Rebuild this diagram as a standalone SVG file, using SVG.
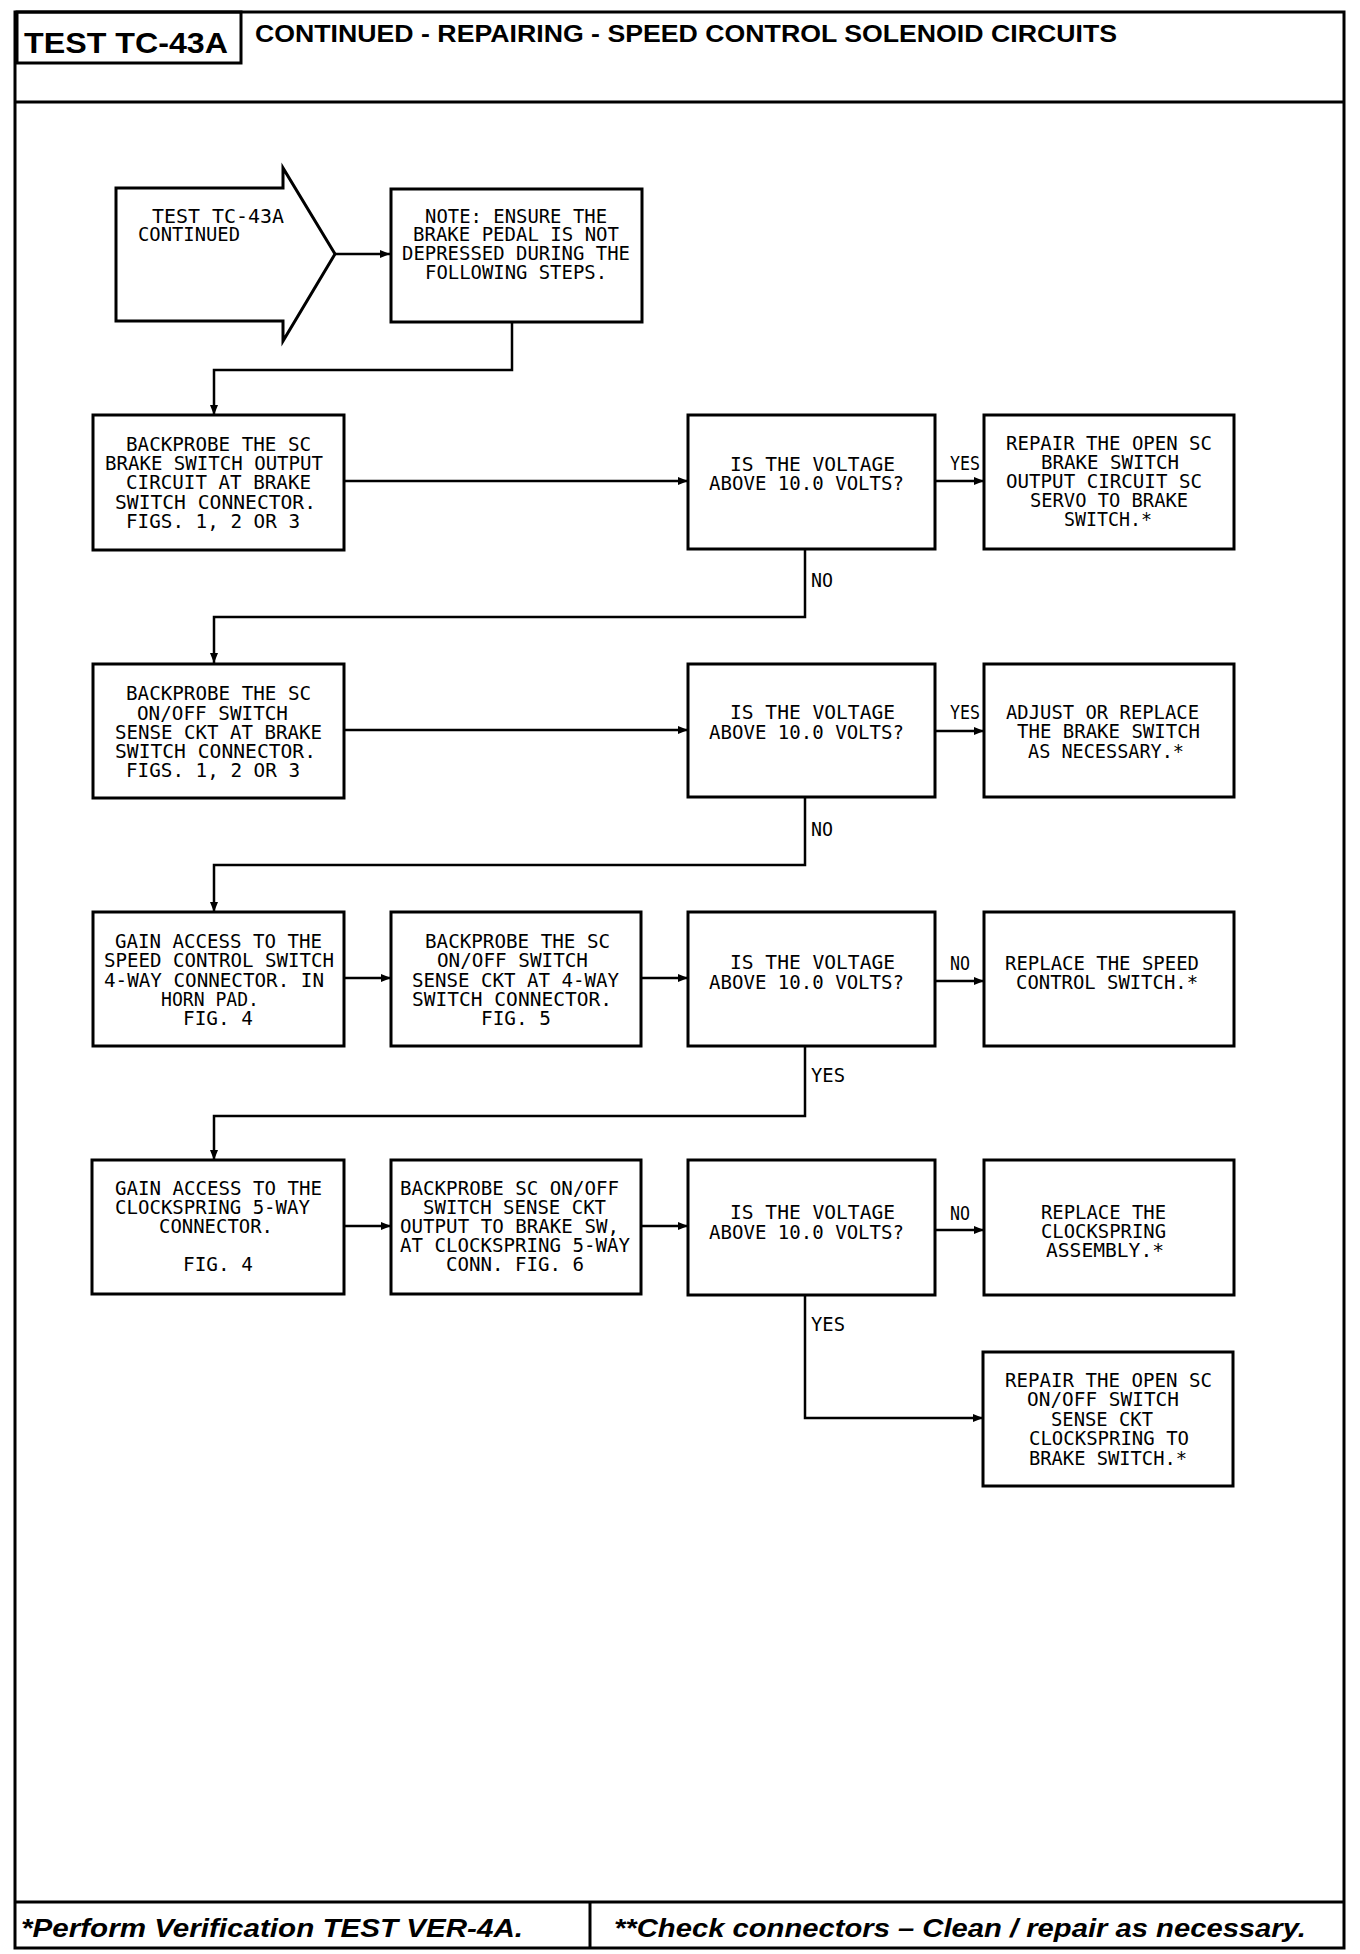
<svg xmlns="http://www.w3.org/2000/svg" width="1360" height="1954" viewBox="0 0 1360 1954">
<defs>
<style>
.frame{fill:none;stroke:#000;stroke-width:3}
.box{fill:none;stroke:#000;stroke-width:3}
.conn{fill:none;stroke:#000;stroke-width:2.5}
.t{font-family:"DejaVu Sans Mono","Liberation Mono",monospace;font-size:20px;fill:#000}
.hd{font-family:"Liberation Sans",Arial,sans-serif;font-weight:bold;fill:#000}
.ft{font-family:"Liberation Sans",Arial,sans-serif;font-weight:bold;font-style:italic;font-size:26px;fill:#000}
</style>
<marker id="ah" markerUnits="userSpaceOnUse" markerWidth="10" markerHeight="8" refX="10" refY="4" orient="auto">
<path d="M0,0 L10,4 L0,8 z" fill="#000"/>
</marker>
</defs>
<rect width="1360" height="1954" fill="#fff"/>

<g id="frame">
<rect class="frame" x="15" y="12" width="1329" height="1936"/>
<line class="frame" x1="15" y1="102" x2="1344" y2="102"/>
<rect class="frame" x="17" y="12" width="224" height="51"/>
<line class="frame" x1="15" y1="1902" x2="1344" y2="1902"/>
<line class="frame" x1="590" y1="1902" x2="590" y2="1948"/>
<text class="hd" x="24" y="53" font-size="30" textLength="204" lengthAdjust="spacingAndGlyphs">TEST TC-43A</text>
<text class="hd" x="255" y="42" font-size="23" textLength="862" lengthAdjust="spacingAndGlyphs">CONTINUED - REPAIRING - SPEED CONTROL SOLENOID CIRCUITS</text>
<text class="ft" x="21" y="1937" textLength="502" lengthAdjust="spacingAndGlyphs">*Perform Verification TEST VER-4A.</text>
<text class="ft" x="614" y="1937" textLength="692" lengthAdjust="spacingAndGlyphs">**Check connectors – Clean / repair as necessary.</text>
</g>

<g id="connectors">
<path class="conn" d="M335,254 H390" marker-end="url(#ah)"/>
<path class="conn" d="M512,322 V370 H214 V415" marker-end="url(#ah)"/>
<path class="conn" d="M344,481 H688" marker-end="url(#ah)"/>
<path class="conn" d="M935,481 H984" marker-end="url(#ah)"/>
<path class="conn" d="M805,549 V617 H214 V663" marker-end="url(#ah)"/>
<path class="conn" d="M344,730 H688" marker-end="url(#ah)"/>
<path class="conn" d="M935,731 H984" marker-end="url(#ah)"/>
<path class="conn" d="M805,797 V865 H214 V912" marker-end="url(#ah)"/>
<path class="conn" d="M344,978 H391" marker-end="url(#ah)"/>
<path class="conn" d="M641,978 H688" marker-end="url(#ah)"/>
<path class="conn" d="M935,981 H984" marker-end="url(#ah)"/>
<path class="conn" d="M805,1046 V1116 H214 V1160" marker-end="url(#ah)"/>
<path class="conn" d="M344,1226 H391" marker-end="url(#ah)"/>
<path class="conn" d="M641,1226 H688" marker-end="url(#ah)"/>
<path class="conn" d="M935,1230 H984" marker-end="url(#ah)"/>
<path class="conn" d="M805,1295 V1418 H983" marker-end="url(#ah)"/>
<text class="t" x="950" y="470" textLength="30" lengthAdjust="spacingAndGlyphs">YES</text>
<text class="t" x="811" y="587" textLength="22" lengthAdjust="spacingAndGlyphs">NO</text>
<text class="t" x="950" y="719" textLength="30" lengthAdjust="spacingAndGlyphs">YES</text>
<text class="t" x="811" y="836" textLength="22" lengthAdjust="spacingAndGlyphs">NO</text>
<text class="t" x="950" y="970" textLength="20" lengthAdjust="spacingAndGlyphs">NO</text>
<text class="t" x="811" y="1082" textLength="34" lengthAdjust="spacingAndGlyphs">YES</text>
<text class="t" x="950" y="1220" textLength="20" lengthAdjust="spacingAndGlyphs">NO</text>
<text class="t" x="811" y="1331" textLength="34" lengthAdjust="spacingAndGlyphs">YES</text>
</g>

<g id="start">
<path class="box" d="M116,188 H283 V168 L335,254 L283,341 V321 H116 Z"/>
<text class="t" x="152" y="223" textLength="132" lengthAdjust="spacingAndGlyphs">TEST TC-43A</text>
<text class="t" x="138" y="241" textLength="102" lengthAdjust="spacingAndGlyphs">CONTINUED</text>
</g>

<g id="note">
<rect class="box" x="391" y="189" width="251" height="133"/>
<text class="t" x="425" y="223" textLength="182" lengthAdjust="spacingAndGlyphs">NOTE: ENSURE THE</text>
<text class="t" x="413" y="241" textLength="206" lengthAdjust="spacingAndGlyphs">BRAKE PEDAL IS NOT</text>
<text class="t" x="402" y="260" textLength="228" lengthAdjust="spacingAndGlyphs">DEPRESSED DURING THE</text>
<text class="t" x="425" y="279" textLength="182" lengthAdjust="spacingAndGlyphs">FOLLOWING STEPS.</text>
</g>

<g id="a1">
<rect class="box" x="93" y="415" width="251" height="135"/>
<text class="t" x="126" y="451" textLength="185" lengthAdjust="spacingAndGlyphs">BACKPROBE THE SC</text>
<text class="t" x="105" y="470" textLength="218" lengthAdjust="spacingAndGlyphs">BRAKE SWITCH OUTPUT</text>
<text class="t" x="126" y="489" textLength="185" lengthAdjust="spacingAndGlyphs">CIRCUIT AT BRAKE</text>
<text class="t" x="115" y="509" textLength="201" lengthAdjust="spacingAndGlyphs">SWITCH CONNECTOR.</text>
<text class="t" x="126" y="528" textLength="174" lengthAdjust="spacingAndGlyphs">FIGS. 1, 2 OR 3</text>
</g>

<g id="d1">
<rect class="box" x="688" y="415" width="247" height="134"/>
<text class="t" x="730" y="471" textLength="165" lengthAdjust="spacingAndGlyphs">IS THE VOLTAGE</text>
<text class="t" x="709" y="490" textLength="195" lengthAdjust="spacingAndGlyphs">ABOVE 10.0 VOLTS?</text>
</g>

<g id="r1">
<rect class="box" x="984" y="415" width="250" height="134"/>
<text class="t" x="1006" y="450" textLength="206" lengthAdjust="spacingAndGlyphs">REPAIR THE OPEN SC</text>
<text class="t" x="1041" y="469" textLength="138" lengthAdjust="spacingAndGlyphs">BRAKE SWITCH</text>
<text class="t" x="1006" y="488" textLength="196" lengthAdjust="spacingAndGlyphs">OUTPUT CIRCUIT SC</text>
<text class="t" x="1030" y="507" textLength="158" lengthAdjust="spacingAndGlyphs">SERVO TO BRAKE</text>
<text class="t" x="1064" y="526" textLength="88" lengthAdjust="spacingAndGlyphs">SWITCH.*</text>
</g>

<g id="a2">
<rect class="box" x="93" y="664" width="251" height="134"/>
<text class="t" x="126" y="700" textLength="185" lengthAdjust="spacingAndGlyphs">BACKPROBE THE SC</text>
<text class="t" x="137" y="720" textLength="151" lengthAdjust="spacingAndGlyphs">ON/OFF SWITCH</text>
<text class="t" x="115" y="739" textLength="207" lengthAdjust="spacingAndGlyphs">SENSE CKT AT BRAKE</text>
<text class="t" x="115" y="758" textLength="201" lengthAdjust="spacingAndGlyphs">SWITCH CONNECTOR.</text>
<text class="t" x="126" y="777" textLength="174" lengthAdjust="spacingAndGlyphs">FIGS. 1, 2 OR 3</text>
</g>

<g id="d2">
<rect class="box" x="688" y="664" width="247" height="133"/>
<text class="t" x="730" y="719" textLength="165" lengthAdjust="spacingAndGlyphs">IS THE VOLTAGE</text>
<text class="t" x="709" y="739" textLength="195" lengthAdjust="spacingAndGlyphs">ABOVE 10.0 VOLTS?</text>
</g>

<g id="r2">
<rect class="box" x="984" y="664" width="250" height="133"/>
<text class="t" x="1006" y="719" textLength="193" lengthAdjust="spacingAndGlyphs">ADJUST OR REPLACE</text>
<text class="t" x="1017" y="738" textLength="183" lengthAdjust="spacingAndGlyphs">THE BRAKE SWITCH</text>
<text class="t" x="1028" y="758" textLength="156" lengthAdjust="spacingAndGlyphs">AS NECESSARY.*</text>
</g>

<g id="a3">
<rect class="box" x="93" y="912" width="251" height="134"/>
<text class="t" x="115" y="948" textLength="207" lengthAdjust="spacingAndGlyphs">GAIN ACCESS TO THE</text>
<text class="t" x="104" y="967" textLength="230" lengthAdjust="spacingAndGlyphs">SPEED CONTROL SWITCH</text>
<text class="t" x="104" y="987" textLength="220" lengthAdjust="spacingAndGlyphs">4-WAY CONNECTOR. IN</text>
<text class="t" x="161" y="1006" textLength="98" lengthAdjust="spacingAndGlyphs">HORN PAD.</text>
<text class="t" x="183" y="1025" textLength="70" lengthAdjust="spacingAndGlyphs">FIG. 4</text>
</g>

<g id="b3">
<rect class="box" x="391" y="912" width="250" height="134"/>
<text class="t" x="425" y="948" textLength="185" lengthAdjust="spacingAndGlyphs">BACKPROBE THE SC</text>
<text class="t" x="437" y="967" textLength="151" lengthAdjust="spacingAndGlyphs">ON/OFF SWITCH</text>
<text class="t" x="412" y="987" textLength="207" lengthAdjust="spacingAndGlyphs">SENSE CKT AT 4-WAY</text>
<text class="t" x="412" y="1006" textLength="200" lengthAdjust="spacingAndGlyphs">SWITCH CONNECTOR.</text>
<text class="t" x="481" y="1025" textLength="70" lengthAdjust="spacingAndGlyphs">FIG. 5</text>
</g>

<g id="d3">
<rect class="box" x="688" y="912" width="247" height="134"/>
<text class="t" x="730" y="969" textLength="165" lengthAdjust="spacingAndGlyphs">IS THE VOLTAGE</text>
<text class="t" x="709" y="989" textLength="195" lengthAdjust="spacingAndGlyphs">ABOVE 10.0 VOLTS?</text>
</g>

<g id="r3">
<rect class="box" x="984" y="912" width="250" height="134"/>
<text class="t" x="1005" y="970" textLength="194" lengthAdjust="spacingAndGlyphs">REPLACE THE SPEED</text>
<text class="t" x="1016" y="989" textLength="182" lengthAdjust="spacingAndGlyphs">CONTROL SWITCH.*</text>
</g>

<g id="a4">
<rect class="box" x="92" y="1160" width="252" height="134"/>
<text class="t" x="115" y="1195" textLength="207" lengthAdjust="spacingAndGlyphs">GAIN ACCESS TO THE</text>
<text class="t" x="115" y="1214" textLength="195" lengthAdjust="spacingAndGlyphs">CLOCKSPRING 5-WAY</text>
<text class="t" x="159" y="1233" textLength="114" lengthAdjust="spacingAndGlyphs">CONNECTOR.</text>
<text class="t" x="183" y="1271" textLength="70" lengthAdjust="spacingAndGlyphs">FIG. 4</text>
</g>

<g id="b4">
<rect class="box" x="391" y="1160" width="250" height="134"/>
<text class="t" x="400" y="1195" textLength="219" lengthAdjust="spacingAndGlyphs">BACKPROBE SC ON/OFF</text>
<text class="t" x="423" y="1214" textLength="183" lengthAdjust="spacingAndGlyphs">SWITCH SENSE CKT</text>
<text class="t" x="400" y="1233" textLength="219" lengthAdjust="spacingAndGlyphs">OUTPUT TO BRAKE SW,</text>
<text class="t" x="400" y="1252" textLength="230" lengthAdjust="spacingAndGlyphs">AT CLOCKSPRING 5-WAY</text>
<text class="t" x="446" y="1271" textLength="138" lengthAdjust="spacingAndGlyphs">CONN. FIG. 6</text>
</g>

<g id="d4">
<rect class="box" x="688" y="1160" width="247" height="135"/>
<text class="t" x="730" y="1219" textLength="165" lengthAdjust="spacingAndGlyphs">IS THE VOLTAGE</text>
<text class="t" x="709" y="1239" textLength="195" lengthAdjust="spacingAndGlyphs">ABOVE 10.0 VOLTS?</text>
</g>

<g id="r4">
<rect class="box" x="984" y="1160" width="250" height="135"/>
<text class="t" x="1041" y="1219" textLength="125" lengthAdjust="spacingAndGlyphs">REPLACE THE</text>
<text class="t" x="1041" y="1238" textLength="125" lengthAdjust="spacingAndGlyphs">CLOCKSPRING</text>
<text class="t" x="1046" y="1257" textLength="118" lengthAdjust="spacingAndGlyphs">ASSEMBLY.*</text>
</g>

<g id="r5">
<rect class="box" x="983" y="1352" width="250" height="134"/>
<text class="t" x="1005" y="1387" textLength="207" lengthAdjust="spacingAndGlyphs">REPAIR THE OPEN SC</text>
<text class="t" x="1027" y="1406" textLength="152" lengthAdjust="spacingAndGlyphs">ON/OFF SWITCH</text>
<text class="t" x="1051" y="1426" textLength="102" lengthAdjust="spacingAndGlyphs">SENSE CKT</text>
<text class="t" x="1029" y="1445" textLength="160" lengthAdjust="spacingAndGlyphs">CLOCKSPRING TO</text>
<text class="t" x="1029" y="1465" textLength="158" lengthAdjust="spacingAndGlyphs">BRAKE SWITCH.*</text>
</g>
</svg>
